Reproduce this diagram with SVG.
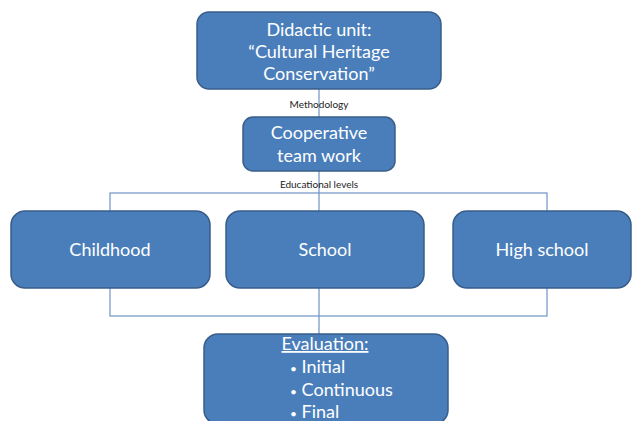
<svg xmlns="http://www.w3.org/2000/svg" width="639" height="421" viewBox="0 0 639 421">
<style>
.box{fill:#4a7ebb;stroke:#385d8a;stroke-width:1.5}
.t{fill:#fff;font-family:Lato,"Open Sans","Liberation Sans",sans-serif;font-size:18px;text-anchor:middle}
.b{font-size:12px}
.lbl{fill:#222;font-family:Lato,"Open Sans","Liberation Sans",sans-serif;font-size:10px;text-anchor:middle}
.ln{fill:none;stroke:#6f93c6;stroke-width:1.2}
</style>
<rect width="639" height="421" fill="#fff"/>
<g id="connectors">
<line class="ln" x1="319" y1="89" x2="319" y2="117"/>
<line class="ln" x1="319" y1="171" x2="319" y2="334"/>
<rect class="ln" x="110" y="193" width="437" height="123"/>
</g>
<g id="didactic">
<rect class="box" x="197" y="12" width="244" height="77" rx="12"/>
<text class="t" x="319" y="36">Didactic unit:</text>
<text class="t" x="319" y="58">“Cultural Heritage</text>
<text class="t" x="319" y="80">Conservation”</text>
</g>
<text class="lbl" x="319" y="108">Methodology</text>
<g id="cooperative">
<rect class="box" x="243" y="117" width="152" height="54" rx="10"/>
<text class="t" x="319" y="139">Cooperative</text>
<text class="t" x="319" y="162">team work</text>
</g>
<text class="lbl" x="319" y="188">Educational levels</text>
<g id="childhood">
<rect class="box" x="11" y="211" width="199" height="77" rx="14"/>
<text class="t" x="110" y="256">Childhood</text>
</g>
<g id="school">
<rect class="box" x="226" y="211" width="198" height="77" rx="14"/>
<text class="t" x="325" y="256">School</text>
</g>
<g id="highschool">
<rect class="box" x="453" y="211" width="178" height="77" rx="14"/>
<text class="t" x="542" y="256">High school</text>
</g>
<g id="evaluation">
<rect class="box" x="204" y="334" width="244" height="90" rx="14"/>
<text class="t" x="325" y="350" text-decoration="underline">Evaluation:</text>
<text class="t" x="290" y="373" style="text-anchor:start"><tspan class="b">•</tspan> Initial</text>
<text class="t" x="290" y="396" style="text-anchor:start"><tspan class="b">•</tspan> Continuous</text>
<text class="t" x="290" y="418" style="text-anchor:start"><tspan class="b">•</tspan> Final</text>
</g>
</svg>
